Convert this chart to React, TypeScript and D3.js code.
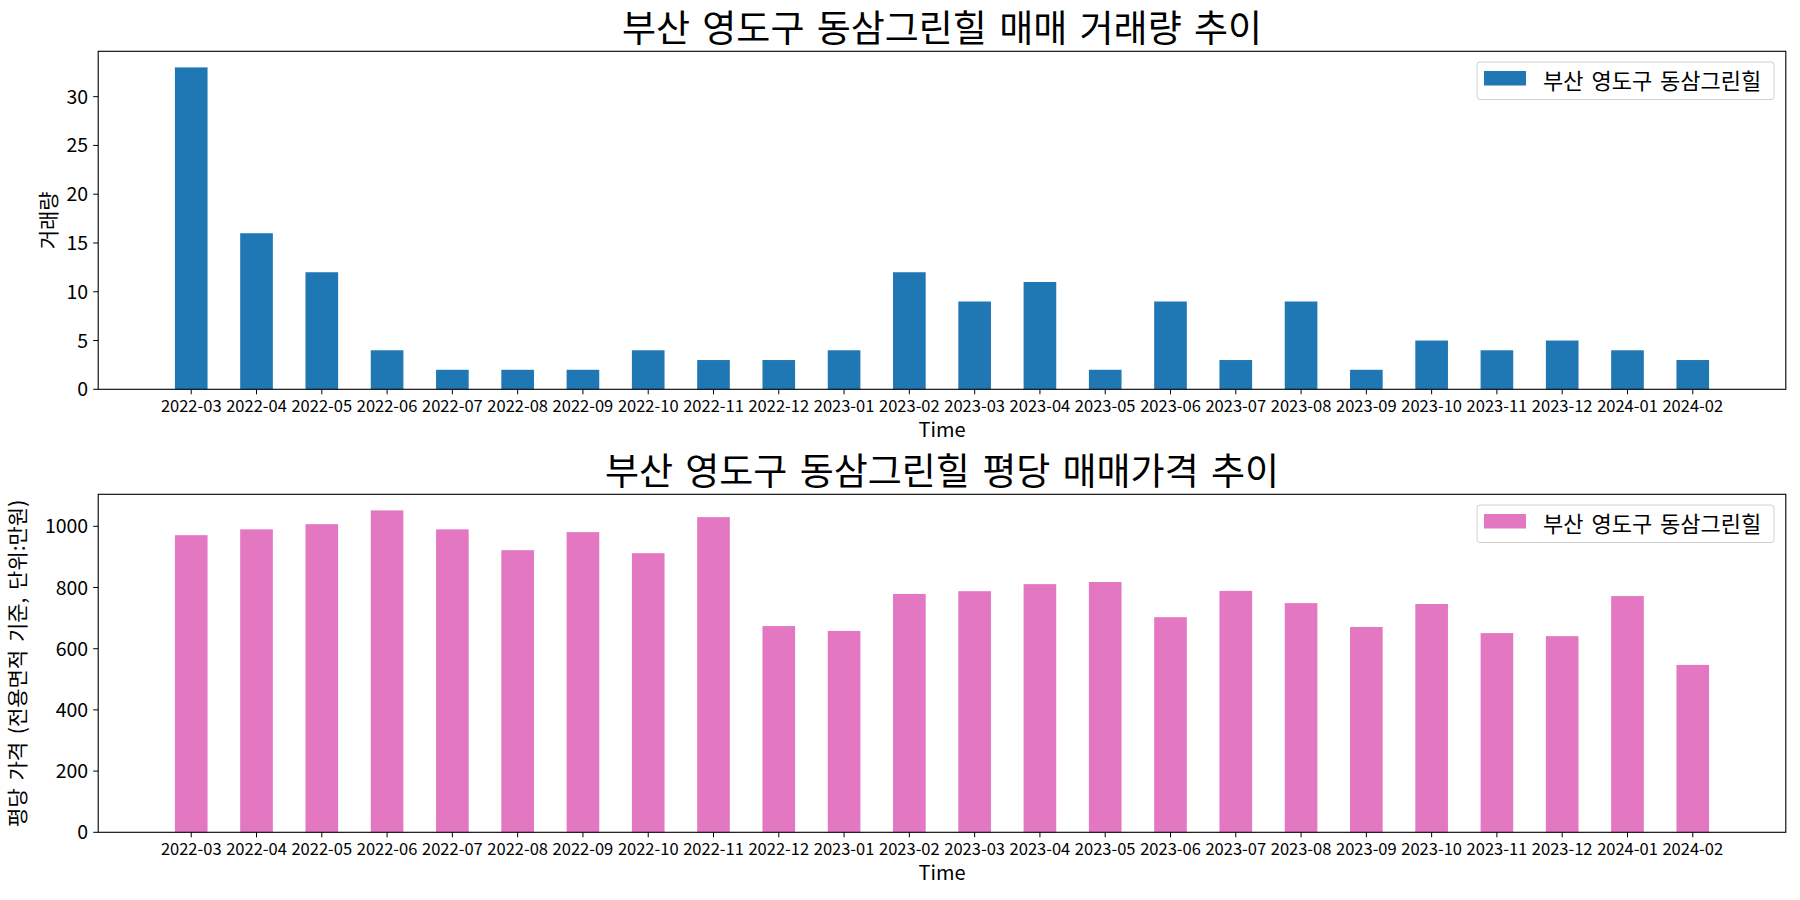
import React from "react";
import * as d3 from "d3";

const months = [
  "2022-03", "2022-04", "2022-05", "2022-06", "2022-07", "2022-08", "2022-09", "2022-10",
  "2022-11", "2022-12", "2023-01", "2023-02", "2023-03", "2023-04", "2023-05", "2023-06",
  "2023-07", "2023-08", "2023-09", "2023-10", "2023-11", "2023-12", "2024-01", "2024-02",
];
const volume = [33, 16, 12, 4, 2, 2, 2, 4, 3, 3, 4, 12, 9, 11, 2, 9, 3, 9, 2, 5, 4, 5, 4, 3];
const price = [
  971, 990, 1007, 1052, 990, 922, 981, 912, 1030, 674, 658, 779,
  788, 811, 818, 703, 789, 749, 671, 746, 651, 641, 772, 547,
];
const volumeTicks = [0, 5, 10, 15, 20, 25, 30];
const priceTicks = [0, 200, 400, 600, 800, 1000];

const seriesName = "부산 영도구 동삼그린힐";
const title1 = "부산 영도구 동삼그린힐 매매 거래량 추이";
const title2 = "부산 영도구 동삼그린힐 평당 매매가격 추이";
const ylabel1 = "거래량";
const ylabel2 = "평당 가격 (전용면적 기준, 단위:만원)";
const xlabel = "Time";

const FONT = "'Noto Sans CJK KR', 'Noto Sans', sans-serif";
const LEFT = 98.2;
const RIGHT = 1785.8;

type PanelProps = {
  top: number;
  bottom: number;
  values: number[];
  ticks: number[];
  color: string;
  title: string;
  ylabel: string;
  ylabelX: number;
};

function Panel({ top, bottom, values, ticks, color, title, ylabel, ylabelX }: PanelProps) {
  const n = months.length;
  const lo = -0.25, hi = n - 1 + 0.25;
  const pad = 0.05 * (hi - lo);
  const x = d3.scaleLinear().domain([lo - pad, hi + pad]).range([LEFT, RIGHT]);
  const maxV = d3.max(values) as number;
  const y = d3.scaleLinear().domain([0, maxV * 1.05]).range([bottom, top]);
  const midX = (LEFT + RIGHT) / 2;
  const midY = (top + bottom) / 2;
  return (
    <g>
      <text x={midX} y={top - 9} textAnchor="middle" fontSize={37} wordSpacing={4} fontFamily={FONT} fill="#000">
        {title}
      </text>
      {values.map((v, i) => (
        <rect
          key={i}
          x={x(i - 0.25)}
          y={y(v)}
          width={x(i + 0.25) - x(i - 0.25)}
          height={y(0) - y(v)}
          fill={color}
        />
      ))}
      <rect x={LEFT} y={top} width={RIGHT - LEFT} height={bottom - top} fill="none" stroke="#000" strokeWidth={1.1} />
      {ticks.map((t) => (
        <g key={t}>
          <line x1={LEFT - 5} x2={LEFT} y1={y(t)} y2={y(t)} stroke="#000" strokeWidth={1} />
          <text x={LEFT - 10} y={y(t)} dy="0.36em" textAnchor="end" fontSize={19.5} fontFamily={FONT} fill="#000">
            {t}
          </text>
        </g>
      ))}
      {months.map((m, i) => (
        <g key={m}>
          <line x1={x(i)} x2={x(i)} y1={bottom} y2={bottom + 5} stroke="#000" strokeWidth={1} />
          <text x={x(i)} y={bottom + 23} textAnchor="middle" fontSize={16.5} fontFamily={FONT} fill="#000">
            {m}
          </text>
        </g>
      ))}
      <text x={midX} y={bottom + 48} textAnchor="middle" fontSize={20} fontFamily={FONT} fill="#000">
        {xlabel}
      </text>
      <text
        transform={`translate(${ylabelX},${midY}) rotate(-90)`}
        textAnchor="middle"
        dominantBaseline="central"
        fontSize={21}
        wordSpacing={3}
        fontFamily={FONT}
        fill="#000"
      >
        {ylabel}
      </text>
      <g>
        <rect x={1477} y={top + 10.7} width={297} height={37.5} rx={3} fill="#fff" fillOpacity={0.8} stroke="#d0d0d0" strokeWidth={1} />
        <rect x={1484} y={top + 19.7} width={42} height={14.5} fill={color} />
        <text x={1543} y={top + 27.5} dominantBaseline="central" fontSize={22} wordSpacing={3} fontFamily={FONT} fill="#000">
          {seriesName}
        </text>
      </g>
    </g>
  );
}

export default function App() {
  return (
    <svg
      width={1800}
      height={900}
      style={{ position: "absolute", left: 0, top: 0, background: "#fff" }}
      xmlns="http://www.w3.org/2000/svg"
    >
      <rect x={0} y={0} width={1800} height={900} fill="#fff" />
      <Panel top={51.3} bottom={389.3} values={volume} ticks={volumeTicks} color="#1f77b4" title={title1} ylabel={ylabel1} ylabelX={46.7} />
      <Panel top={494.3} bottom={832.3} values={price} ticks={priceTicks} color="#e377c2" title={title2} ylabel={ylabel2} ylabelX={16} />
    </svg>
  );
}
